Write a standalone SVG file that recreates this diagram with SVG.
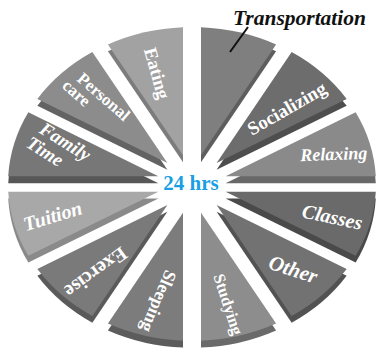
<svg xmlns="http://www.w3.org/2000/svg" width="380" height="353" viewBox="0 0 380 353">
<style>
.lbl{font-family:"Liberation Serif","Times New Roman",serif;font-weight:bold;fill:#fff;text-anchor:middle}
.it{font-style:italic}
.title{font-family:"Liberation Serif","Times New Roman",serif;font-weight:bold;font-style:italic;fill:#111}
.hub{font-family:"Liberation Serif","Times New Roman",serif;font-weight:bold;fill:#1a9fe3;text-anchor:middle}
.lead{stroke:#111;stroke-width:2;fill:none}
</style>
<defs>
<path id="w" d="M0,-34.8 L38.88,-179.84 A184,184 0 0 0 -38.88,-179.84 Z"/>
</defs>
<rect width="380" height="353" fill="#fff"/>

<g id="transportation">
 <g transform="translate(192,184) scale(1,0.853)">
  <use href="#w" transform="translate(0,8) rotate(15)" fill="#5e5e5e"/>
  <use href="#w" transform="rotate(15)" fill="#7f7f7f"/>
 </g>
 <text class="title" x="233" y="25" font-size="21.5">Transportation</text>
</g>
<g id="socializing">
 <g transform="translate(192,184) scale(1,0.853)">
  <use href="#w" transform="translate(0,8) rotate(45)" fill="#4e4e4e"/>
  <use href="#w" transform="rotate(45)" fill="#6d6d6d"/>
 </g>
 <text class="lbl" font-size="19" transform="translate(290,114) rotate(-30)">Socializing</text>
</g>
<g id="relaxing">
 <g transform="translate(192,184) scale(1,0.853)">
  <use href="#w" transform="translate(0,8) rotate(75)" fill="#686868"/>
  <use href="#w" transform="rotate(75)" fill="#8a8a8a"/>
 </g>
 <text class="lbl it" font-size="18" transform="translate(334,160) rotate(-2)">Relaxing</text>
</g>
<g id="classes">
 <g transform="translate(192,184) scale(1,0.853)">
  <use href="#w" transform="translate(0,8) rotate(105)" fill="#4a4a4a"/>
  <use href="#w" transform="rotate(105)" fill="#6a6a6a"/>
 </g>
 <text class="lbl it" font-size="20" transform="translate(331,223.5) rotate(12)">Classes</text>
</g>
<g id="other">
 <g transform="translate(192,184) scale(1,0.853)">
  <use href="#w" transform="translate(0,8) rotate(135)" fill="#525252"/>
  <use href="#w" transform="rotate(135)" fill="#727272"/>
 </g>
 <text class="lbl it" font-size="21" transform="translate(291,276) rotate(18)">Other</text>
</g>
<g id="studying">
 <g transform="translate(192,184) scale(1,0.853)">
  <use href="#w" transform="translate(0,8) rotate(165)" fill="#6a6a6a"/>
  <use href="#w" transform="rotate(165)" fill="#8d8d8d"/>
 </g>
 <text class="lbl" font-size="16.5" transform="translate(223,306) rotate(72)">Studying</text>
</g>
<g id="sleeping">
 <g transform="translate(192,184) scale(1,0.853)">
  <use href="#w" transform="translate(0,8) rotate(195)" fill="#5c5c5c"/>
  <use href="#w" transform="rotate(195)" fill="#7c7c7c"/>
 </g>
 <text class="lbl" font-size="18" transform="translate(153,299) rotate(113)">Sleeping</text>
</g>
<g id="exercise">
 <g transform="translate(192,184) scale(1,0.853)">
  <use href="#w" transform="translate(0,8) rotate(225)" fill="#5a5a5a"/>
  <use href="#w" transform="rotate(225)" fill="#7a7a7a"/>
 </g>
 <text class="lbl" font-size="20" transform="translate(92,267) rotate(144)">Exercise</text>
</g>
<g id="tuition">
 <g transform="translate(192,184) scale(1,0.853)">
  <use href="#w" transform="translate(0,8) rotate(255)" fill="#8a8a8a"/>
  <use href="#w" transform="rotate(255)" fill="#a8a8a8"/>
 </g>
 <text class="lbl it" font-size="20" transform="translate(54.5,222.5) rotate(-17)">Tuition</text>
</g>
<g id="family-time">
 <g transform="translate(192,184) scale(1,0.853)">
  <use href="#w" transform="translate(0,8) rotate(285)" fill="#575757"/>
  <use href="#w" transform="rotate(285)" fill="#777777"/>
 </g>
 <text class="lbl it" font-size="19" transform="translate(62,147) rotate(32)"><tspan x="0" y="0">Family</tspan><tspan x="-12" y="19">Time</tspan></text>
</g>
<g id="personal-care">
 <g transform="translate(192,184) scale(1,0.853)">
  <use href="#w" transform="translate(0,8) rotate(315)" fill="#636363"/>
  <use href="#w" transform="rotate(315)" fill="#8c8c8c"/>
 </g>
 <text class="lbl" font-size="17" transform="translate(100,101) rotate(41)"><tspan x="0" y="0">Personal</tspan><tspan x="-23" y="15">care</tspan></text>
</g>
<g id="eating">
 <g transform="translate(192,184) scale(1,0.853)">
  <use href="#w" transform="translate(0,8) rotate(345)" fill="#7c7c7c"/>
  <use href="#w" transform="rotate(345)" fill="#a2a2a2"/>
 </g>
 <text class="lbl" font-size="18.5" transform="translate(151,75) rotate(74)">Eating</text>
</g>

<g id="connectors">
 <line class="lead" x1="248" y1="27" x2="230" y2="52"/>
</g>

<g id="center">
 <text class="hub" x="191" y="189.5" font-size="21">24 hrs</text>
</g>
</svg>
